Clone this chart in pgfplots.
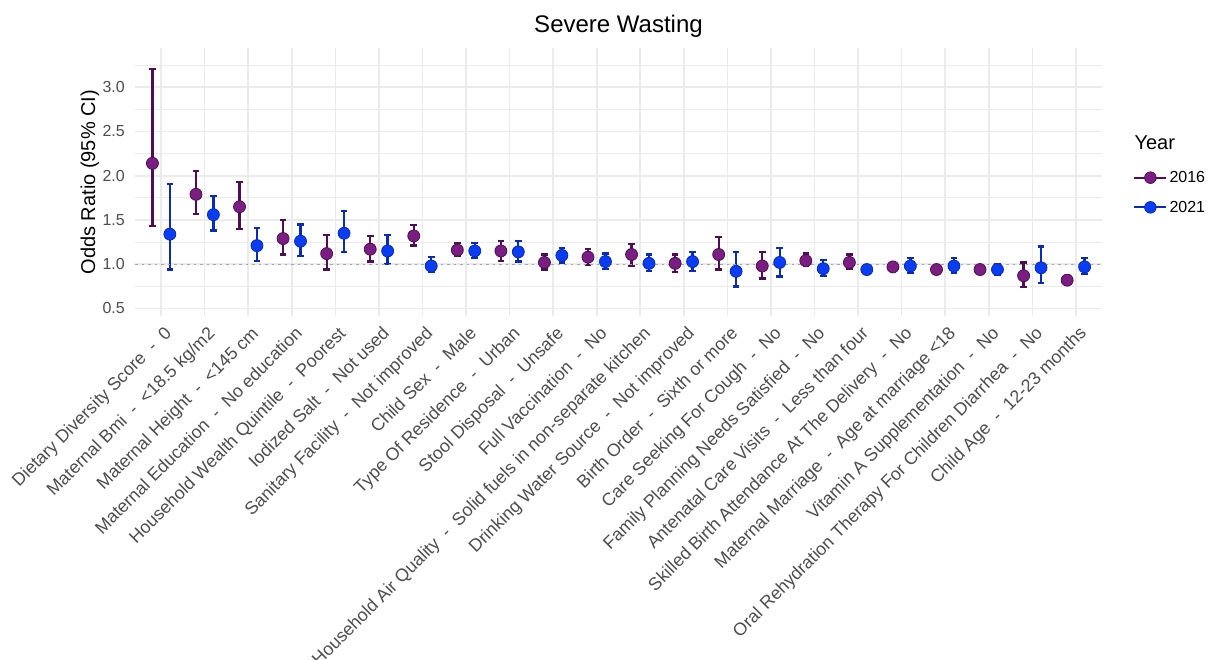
\documentclass[border=0pt]{standalone}
\usepackage{fontspec}
\setmainfont{Liberation Sans}
\usepackage{pgfplots}
\pgfplotsset{compat=1.18}
\usepackage{pgfplotstable}

\definecolor{c16}{HTML}{7B1E82}
\definecolor{c16dark}{HTML}{4E0E55}
\definecolor{c21}{HTML}{0A3CF2}
\definecolor{c21dark}{HTML}{0A2BB5}
\definecolor{gridc}{HTML}{EBEBEB}
\definecolor{ticktext}{HTML}{4D4D4D}

% odds ratio with lower / upper 95% CI, one row per risk factor
\pgfplotstableread{
i  or   lo   hi
0  2.14 1.43 3.21
1  1.79 1.57 2.05
2  1.65 1.40 1.93
3  1.29 1.11 1.50
4  1.12 0.94 1.33
5  1.17 1.03 1.32
6  1.32 1.21 1.44
7  1.16 1.09 1.24
8  1.15 1.04 1.26
9  1.02 0.94 1.11
10 1.08 0.99 1.17
11 1.11 0.98 1.23
12 1.01 0.91 1.11
13 1.11 0.94 1.31
14 0.98 0.84 1.14
15 1.04 0.98 1.12
16 1.02 0.95 1.11
17 0.97 0.92 1.02
18 0.94 0.90 0.99
19 0.94 0.89 0.98
20 0.87 0.74 1.02
21 0.82 0.78 0.86
}\yrA

\pgfplotstableread{
i  or   lo   hi
0  1.34 0.94 1.91
1  1.56 1.38 1.77
2  1.21 1.04 1.41
3  1.26 1.09 1.45
4  1.35 1.14 1.60
5  1.15 1.00 1.33
6  0.98 0.91 1.08
7  1.15 1.07 1.24
8  1.14 1.03 1.26
9  1.10 1.02 1.18
10 1.03 0.95 1.12
11 1.01 0.92 1.11
12 1.03 0.92 1.14
13 0.92 0.75 1.14
14 1.02 0.86 1.18
15 0.95 0.87 1.05
16 0.94 0.89 0.99
17 0.98 0.90 1.07
18 0.98 0.90 1.07
19 0.94 0.88 1.00
20 0.96 0.79 1.20
21 0.97 0.89 1.07
}\yrB

\begin{document}
\begin{tikzpicture}[x=1pt,y=1pt]
\path[use as bounding box] (0pt,0pt) rectangle (1208pt,-660pt);
\node[anchor=base, font=\fontsize{24}{28}\selectfont] at (618.5pt,-32.3pt) {Severe Wasting};
\node[anchor=base west, font=\fontsize{20}{24}\selectfont] at (1131pt,-150pt) {Year};
\begin{axis}[
  at={(135pt,-316pt)}, anchor=south west,
  scale only axis, width=967pt, height=267.7pt,
  xmin=-0.6, xmax=21.6, ymin=0.415, ymax=3.44,
  axis line style={draw=none},
  tick style={draw=none},
  xtick={0,...,21},
  ytick={0.5,1.0,1.5,2.0,2.5,3.0},
  minor ytick={0.75,1.25,1.75,2.25,2.75,3.25},
  grid=both,
  major grid style={gridc, line width=1.6pt},
  minor grid style={gridc, line width=0.9pt},
  /pgf/number format/assume math mode=true,
  yticklabel={\pgfmathprintnumber[fixed,fixed zerofill,precision=1]{\tick}},
  yticklabel style={font=\fontsize{16}{19}\selectfont, text=ticktext, anchor=east, inner sep=0pt, xshift=-10pt},
  xticklabel style={font=\fontsize{17.8}{20}\selectfont, text=ticktext, rotate=45, anchor=north east, inner sep=0pt, yshift=-8pt, xshift=-5pt},
  xticklabels={
    {Dietary Diversity Score\ \ -\ \ 0},
    {Maternal Bmi\ \ -\ \ <18.5 kg/m2},
    {Maternal Height\ \ -\ \ <145 cm},
    {Maternal Education\ \ -\ \ No education},
    {Household Wealth Quintile\ \ -\ \ Poorest},
    {Iodized Salt\ \ -\ \ Not used},
    {Sanitary Facility\ \ -\ \ Not improved},
    {Child Sex\ \ -\ \ Male},
    {Type Of Residence\ \ -\ \ Urban},
    {Stool Disposal\ \ -\ \ Unsafe},
    {Full Vaccination\ \ -\ \ No},
    {Household Air Quality\ \ -\ \ Solid fuels in non-separate kitchen},
    {Drinking Water Source\ \ -\ \ Not improved},
    {Birth Order\ \ -\ \ Sixth or more},
    {Care Seeking For Cough\ \ -\ \ No},
    {Family Planning Needs Satisfied\ \ -\ \ No},
    {Antenatal Care Visits\ \ -\ \ Less than four},
    {Skilled Birth Attendance At The Delivery\ \ -\ \ No},
    {Maternal Marriage\ \ -\ \ Age at marriage <18},
    {Vitamin A Supplementation\ \ -\ \ No},
    {Oral Rehydration Therapy For Children Diarrhea\ \ -\ \ No},
    {Child Age\ \ -\ \ 12-23 months}},
  ylabel={Odds Ratio (95\% CI)},
  every axis y label/.style={at={(axis description cs:-0.0465,0.5)}, rotate=90, anchor=center, font=\fontsize{20}{24}\selectfont},
  legend style={at={(axis description cs:1.029,0.4613)}, anchor=west, draw=none, fill=none,
    font=\fontsize{16}{19}\selectfont, row sep=13pt},
  legend cell align=left,
]
\addplot[only marks, mark=*, mark size=6pt,
  mark options={fill=c16, draw=c16dark, line width=0.8pt},
  legend image code/.code={
    \draw[c16dark, line width=2.3pt] (0pt,0pt) -- (32pt,0pt);
    \draw[c16dark, fill=c16, line width=0.8pt] (16pt,0pt) circle (5.8pt);},
  error bars/.cd, y dir=both, y explicit,
  error bar style={c16dark, line width=2.3pt},
  error mark options={rotate=90, c16dark, line width=2.3pt, mark size=3.3pt}]
  table[x expr=\thisrow{i}-0.2, y=or,
        y error plus expr=\thisrow{hi}-\thisrow{or},
        y error minus expr=\thisrow{or}-\thisrow{lo}] {\yrA};
\addlegendentry{2016}
\addplot[only marks, mark=*, mark size=6pt,
  mark options={fill=c21, draw=c21dark, line width=0.8pt},
  legend image code/.code={
    \draw[c21dark, line width=2.3pt] (0pt,0pt) -- (32pt,0pt);
    \draw[c21dark, fill=c21, line width=0.8pt] (16pt,0pt) circle (5.8pt);},
  error bars/.cd, y dir=both, y explicit,
  error bar style={c21dark, line width=2.3pt},
  error mark options={rotate=90, c21dark, line width=2.3pt, mark size=3.3pt}]
  table[x expr=\thisrow{i}+0.2, y=or,
        y error plus expr=\thisrow{hi}-\thisrow{or},
        y error minus expr=\thisrow{or}-\thisrow{lo}] {\yrB};
\addlegendentry{2021}
\addplot[gray!70, dash pattern=on 2.5pt off 4pt, line width=1pt, forget plot]
  coordinates {(-0.6,1) (21.6,1)};
\end{axis}
\end{tikzpicture}
\end{document}
